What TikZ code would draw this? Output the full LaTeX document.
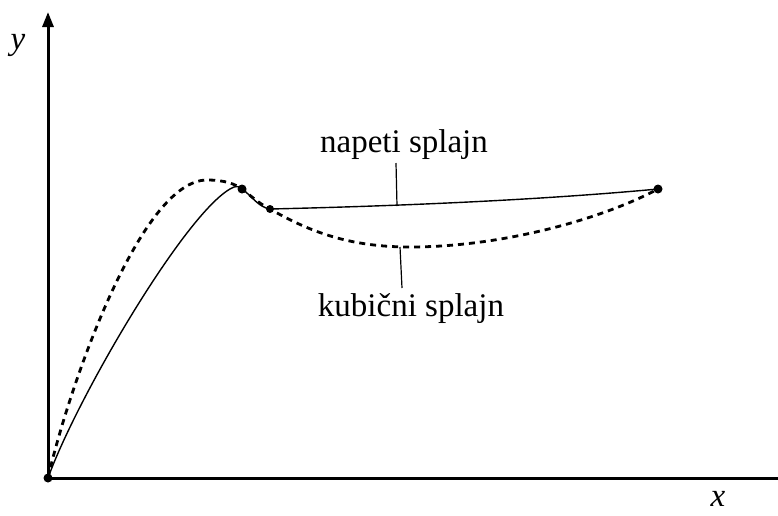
\documentclass[tikz,border=0pt]{standalone}
\usepackage{fontspec}
\setmainfont{Liberation Serif}
\usetikzlibrary{arrows.meta}
\begin{document}
\begin{tikzpicture}[x=1pt,y=-1pt,
  axis/.style={line width=3pt,-{Triangle[length=15pt,width=11pt]}},
  cubic/.style={line width=2.8pt,dash pattern=on 6pt off 5pt},
  tense/.style={line width=1.4pt},
  leader/.style={line width=1.2pt},
  knot/.style={circle,fill=black,inner sep=0pt,minimum size=9pt},
  lbl/.style={font=\fontsize{33}{36}\selectfont},
  axlbl/.style={font=\fontsize{33}{36}\selectfont\itshape}]
\useasboundingbox (0,0) rectangle (778,515);
\coordinate (O) at (48,478);
\coordinate (ytop) at (48,12);
\coordinate (xend) at (779,478);
\coordinate (A) at (242,189);
\coordinate (B) at (270,209);
\coordinate (C) at (658,189);
\draw[line width=3pt] (O) -- (xend);
\draw[axis] (O) -- (ytop);
\node[axlbl] (ylab) at (18,45) {y};
\node[axlbl] (xlab) at (718,499) {x};
% cubic spline (dashed)
\draw[cubic] (O) .. controls (68,390) and (140,180) .. (207,180)
  .. controls (225,180) and (235,184) .. (A)
  .. controls (250,195) and (258,203) .. (B)
  .. controls (310,232) and (350,247) .. (410,247)
  .. controls (500,247) and (600,220) .. (C);
% tension spline (solid)
\draw[tense] (O) .. controls (78,395) and (190,205) .. (234,187)
  .. controls (238,186) and (240,187) .. (A)
  .. controls (252,196) and (258,207) .. (B)
  .. controls (400,206) and (540,200) .. (C);
\node[knot] (k0) at (O) {};
\node[knot] (kA) at (A) {};
\node[knot,minimum size=8pt] (kB) at (B) {};
\node[knot] (kC) at (C) {};
\node[lbl] (nap) at (404,145) {napeti splajn};
\node[lbl] (kub) at (411,309) {kubični splajn};
\coordinate (napend) at (397,206);
\coordinate (kubend) at (400,247);
\draw[leader] (396,163) -- (napend);
\draw[leader] (402,288) -- (kubend);
\end{tikzpicture}
\end{document}
